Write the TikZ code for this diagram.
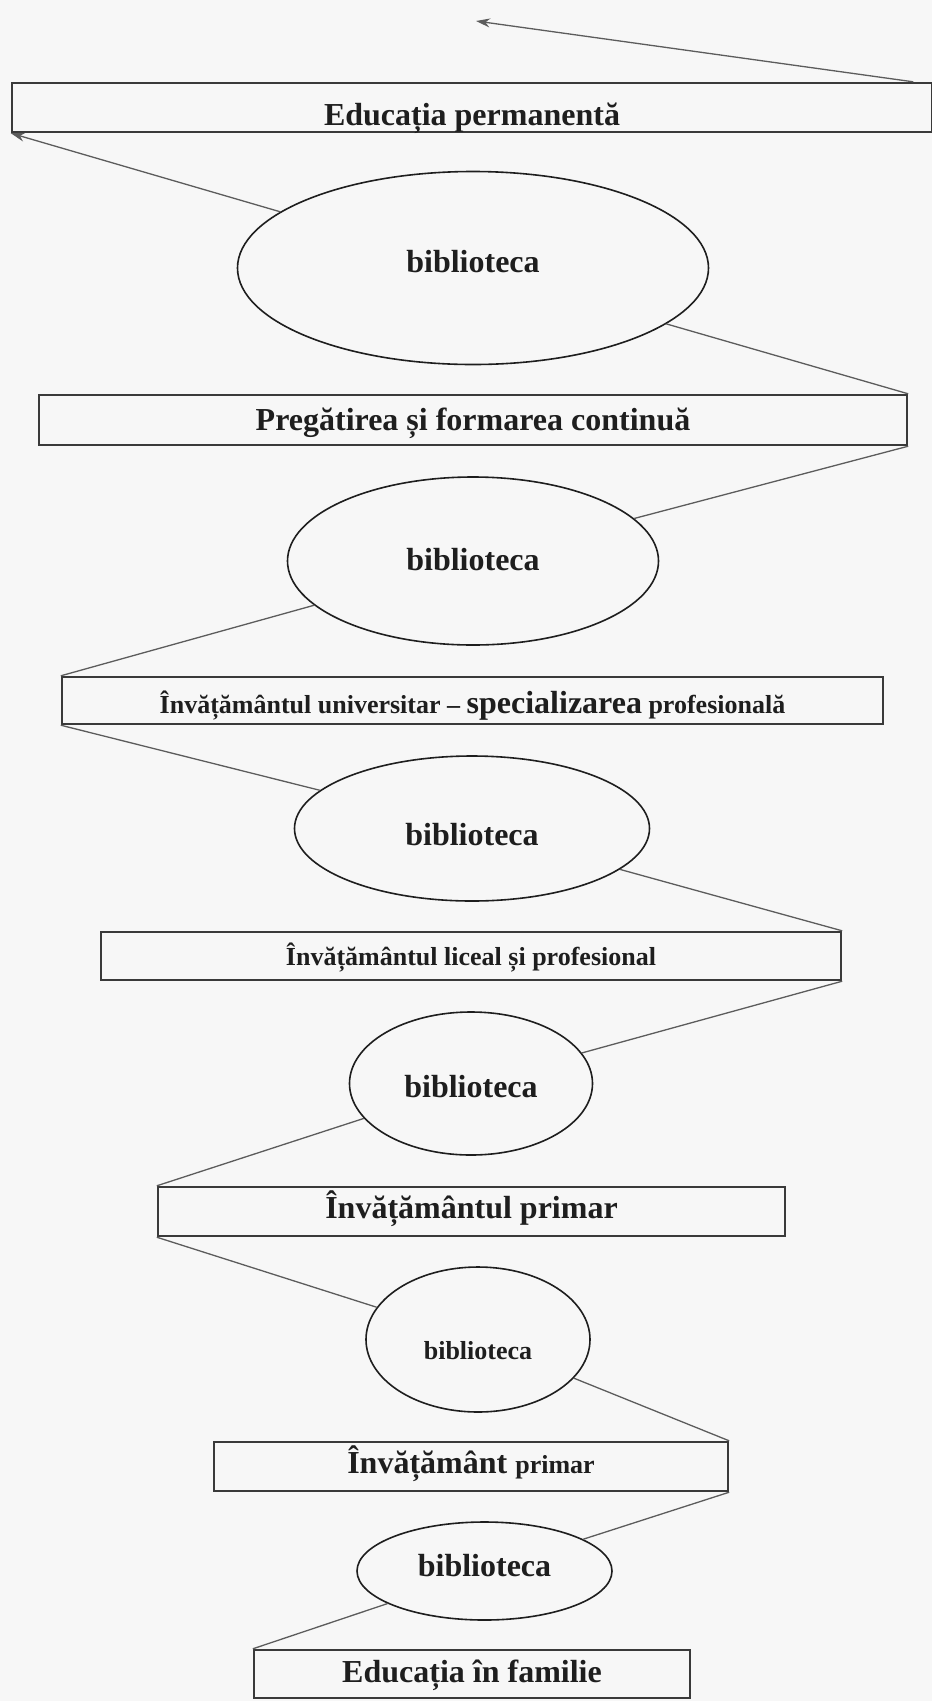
\documentclass[tikz,border=0pt]{standalone}
\usepackage{fontspec}
\setmainfont{Liberation Serif}
\usetikzlibrary{shapes.geometric,arrows.meta}
\definecolor{ink}{HTML}{1E1E1E}
\definecolor{frame}{HTML}{3A3A3A}
\definecolor{wire}{HTML}{5C5C5C}
\definecolor{paper}{HTML}{F7F7F7}
\newcommand{\fbig}{\fontsize{32}{38}\selectfont\bfseries}
\newcommand{\fsmall}{\fontsize{26}{31}\selectfont\bfseries}

\begin{document}
\begin{tikzpicture}[x=1pt,y=-1pt,
  stage/.style={draw=frame, line width=2.4pt, rectangle, inner sep=0pt,
                text=ink, font=\fbig, text depth=0pt},
  lib/.style={draw=ink, line width=1.6pt, ellipse, inner sep=0pt,
              text=ink, font=\fbig, text depth=0pt},
  link/.style={draw=wire, line width=1.3pt},
  arr/.style={link, -{Stealth[length=14pt,width=9pt]}}]

% page
\fill[paper] (0,0) rectangle (932,1701);
\useasboundingbox (0,0) rectangle (932,1701);

% stages of education (boxes)
\node[stage, minimum width=920pt, minimum height=49pt, text height=35pt] (b1) at (472,107.5) {Educația permanentă};
\node[stage, minimum width=868pt, minimum height=50pt, text height=20pt] (b2) at (473,420) {Pregătirea și formarea continuă};
\node[stage, minimum width=821pt, minimum height=47pt, text height=25pt, font=\fsmall] (b3) at (472.5,700.5) {Învățământul universitar – {\fbig specializarea} profesională};
\node[stage, minimum width=740pt, minimum height=48pt, text height=18pt, font=\fsmall] (b4) at (471,956) {Învățământul liceal și profesional};
\node[stage, minimum width=627pt, minimum height=49pt, text height=13pt] (b5) at (471.5,1211.5) {Învățământul primar};
\node[stage, minimum width=514pt, minimum height=49pt, text height=13pt] (b6) at (471,1466.5) {Învățământ {\fsmall primar}};
\node[stage, minimum width=436pt, minimum height=48pt, text height=16pt] (b7) at (472,1674) {Educația în familie};

% libraries (ellipses)
\node[lib, minimum width=471pt, minimum height=193pt, text height=8pt] (e1) at (473,268) {biblioteca};
\node[lib, minimum width=371pt, minimum height=168pt, text height=18pt] (e2) at (473,561) {biblioteca};
\node[lib, minimum width=355pt, minimum height=145pt, text height=33pt] (e3) at (472,828.5) {biblioteca};
\node[lib, minimum width=243pt, minimum height=143pt, text height=27pt] (e4) at (471,1083.5) {biblioteca};
\node[lib, minimum width=224pt, minimum height=145pt, text height=40pt, font=\fsmall] (e5) at (478,1339.5) {biblioteca};
\node[lib, minimum width=255pt, minimum height=98pt, text height=10pt] (e6) at (484.5,1571) {biblioteca};

\coordinate (top) at (476,21);
\coordinate (b1edge) at ([xshift=-20pt]b1.north east);

% zig-zag connectors
\draw[link] (b7.north west) -- (e6);
\draw[link] (b6.south east) -- (e6);
\draw[link] (b6.north east) -- (e5);
\draw[link] (b5.south west) -- (e5);
\draw[link] (b5.north west) -- (e4);
\draw[link] (b4.south east) -- (e4);
\draw[link] (b4.north east) -- (e3);
\draw[link] (b3.south west) -- (e3);
\draw[link] (b3.north west) -- (e2);
\draw[link] (b2.south east) -- (e2);
\draw[link] (b2.north east) -- (e1);
\draw[arr] (e1) -- (b1.south west);
\draw[arr] (b1edge) -- (top);
\end{tikzpicture}
\end{document}
